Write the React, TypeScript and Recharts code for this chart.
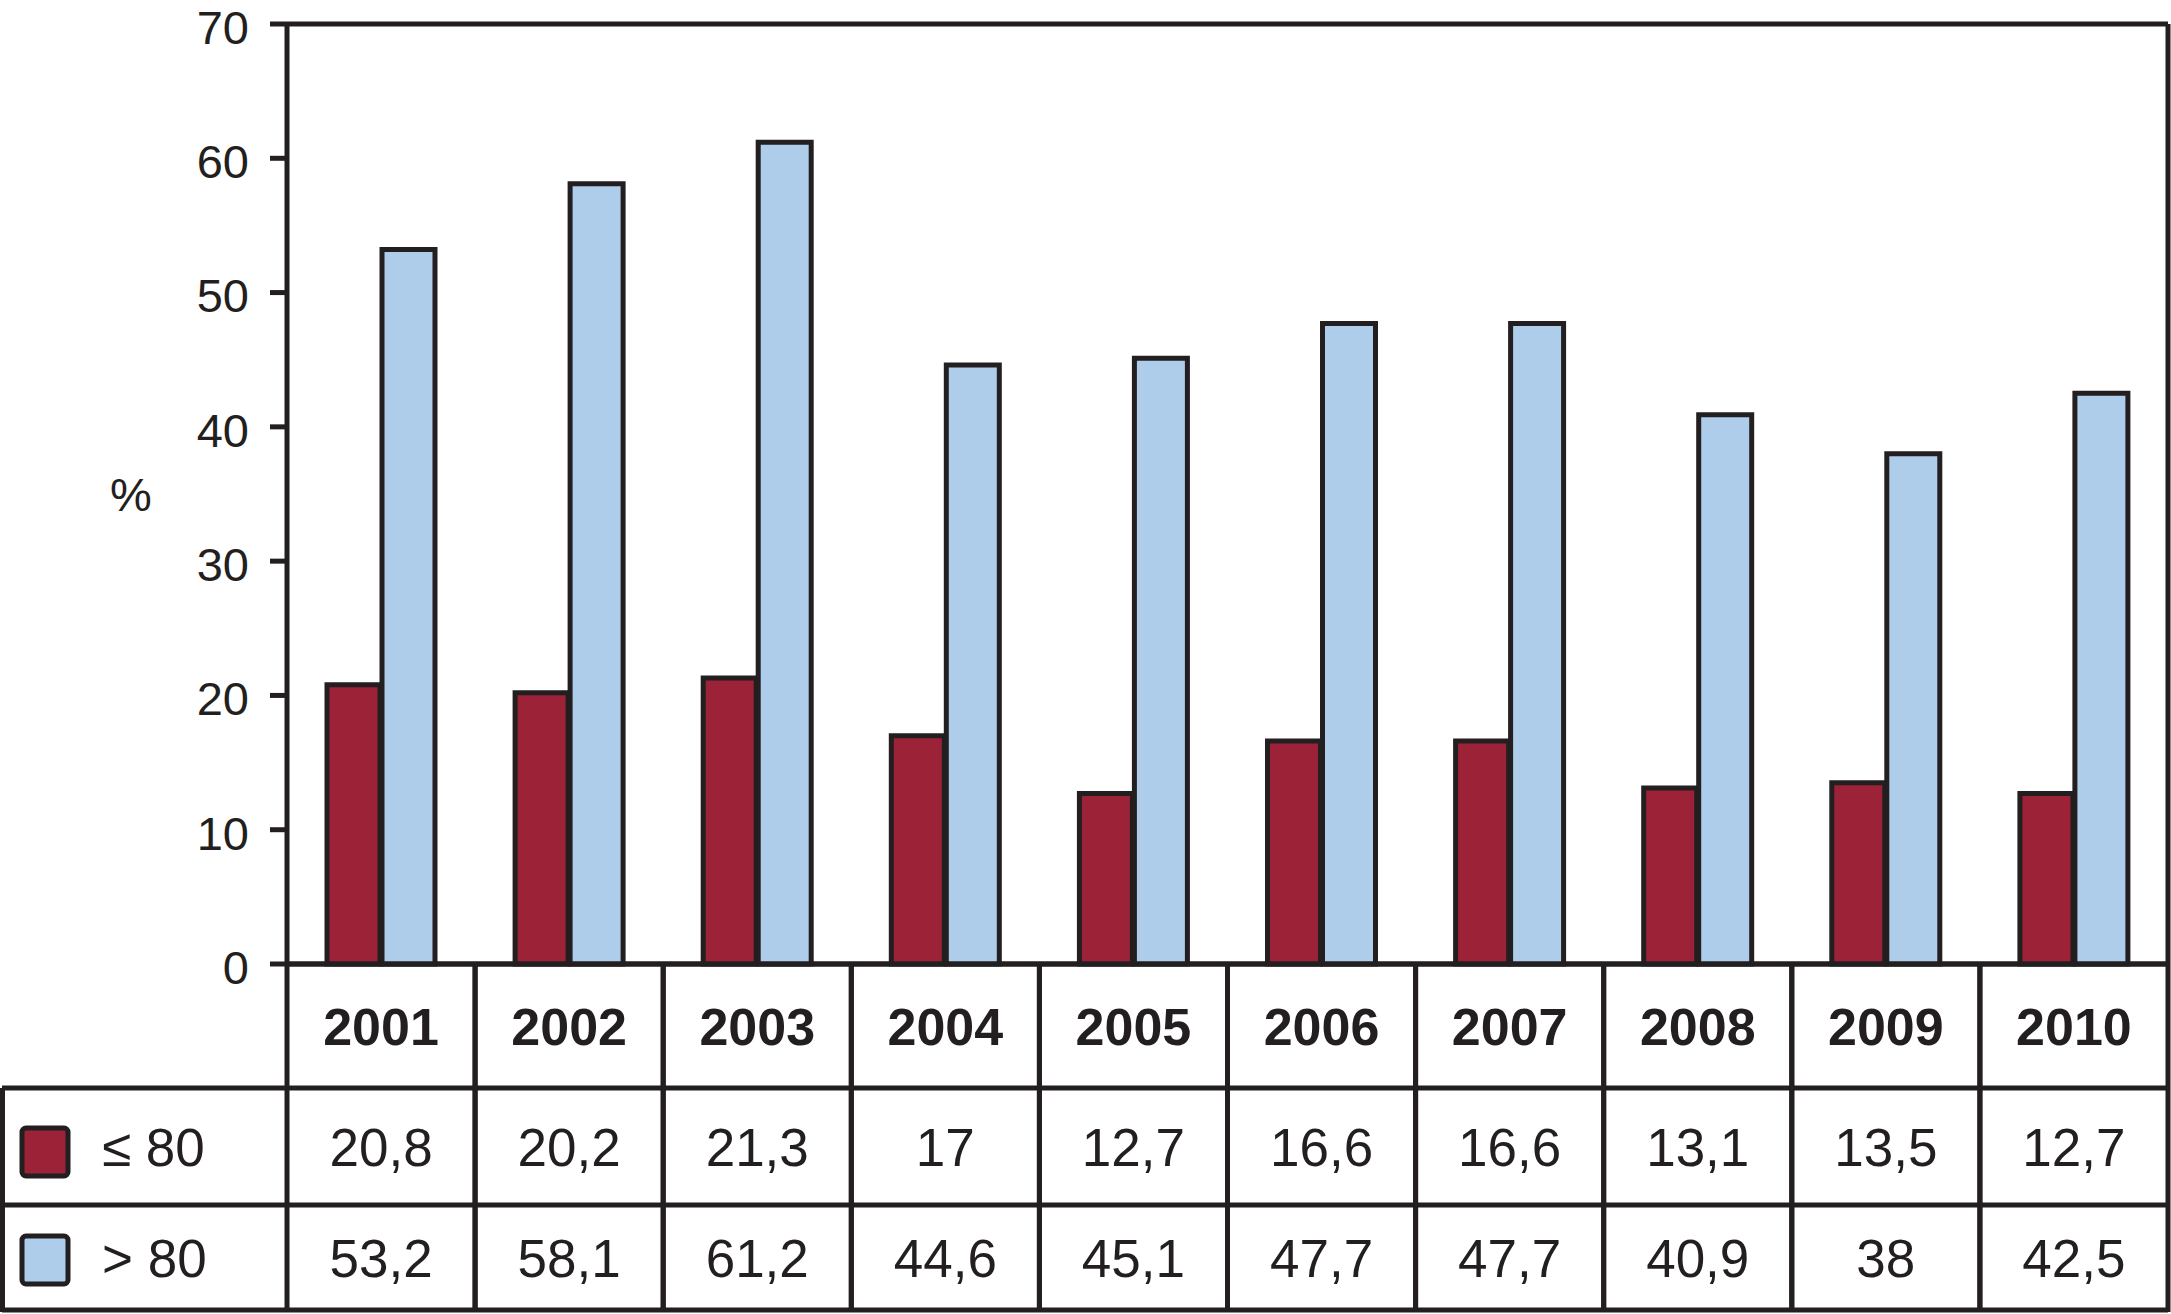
import React from "react";
import { BarChart, Bar, XAxis, YAxis, CartesianGrid } from "recharts";

const years = ["2001", "2002", "2003", "2004", "2005", "2006", "2007", "2008", "2009", "2010"];
const lowAge = [20.8, 20.2, 21.3, 17, 12.7, 16.6, 16.6, 13.1, 13.5, 12.7];
const highAge = [53.2, 58.1, 61.2, 44.6, 45.1, 47.7, 47.7, 40.9, 38, 42.5];
const yTicks = [0, 10, 20, 30, 40, 50, 60, 70];
const seriesNames = ["≤ 80", "> 80"];

const data = years.map((year, i) => ({ year, low: lowAge[i], high: highAge[i] }));

const W = 2171;
const H = 1314;
const LEFT = 287;
const RIGHT_W = 3;
const TOP = 24;
const BOTTOM = 964;
const ROW1 = 1088;
const ROW2 = 1205;
const ROW3 = 1310;
const BAND = (W - LEFT - RIGHT_W) / years.length;
const SW = 5;

const INK = "#231F20";
const RED = "#9C2238";
const BLUE = "#AECDEB";
const FONT = '"Liberation Sans", Arial, Helvetica, sans-serif';

const fmt = (v: number) => String(v).replace(".", ",");

const ValueTick = (props: any) => {
  const { x, y, payload } = props;
  return (
    <text x={x} y={y + 3} dy="0.36em" textAnchor="end" fontSize={47} fontFamily={FONT} fill={INK}>
      {payload.value}
    </text>
  );
};

const TableColumn = (props: any) => {
  const { x, payload } = props;
  const i = payload.index;
  const half = BAND / 2;
  return (
    <g fontFamily={FONT} fill={INK}>
      {i === 0 && (
        <g>
          <line x1={2} y1={ROW1} x2={W - RIGHT_W} y2={ROW1} stroke={INK} strokeWidth={SW} />
          <line x1={2} y1={ROW2} x2={W - RIGHT_W} y2={ROW2} stroke={INK} strokeWidth={SW} />
          <line x1={2} y1={ROW3} x2={W - RIGHT_W} y2={ROW3} stroke={INK} strokeWidth={SW} />
          <line x1={2.5} y1={ROW1} x2={2.5} y2={ROW3 + 2} stroke={INK} strokeWidth={SW} />
          <rect x={22} y={1128} width={46} height={48} rx={4} fill={RED} stroke={INK} strokeWidth={SW} />
          <rect x={22} y={1236} width={46} height={48} rx={4} fill={BLUE} stroke={INK} strokeWidth={SW} />
          <text x={102} y={(ROW1 + ROW2) / 2} dy="0.36em" fontSize={53} textAnchor="start">
            {seriesNames[0]}
          </text>
          <text x={102} y={(ROW2 + ROW3) / 2} dy="0.36em" fontSize={53} textAnchor="start">
            {seriesNames[1]}
          </text>
        </g>
      )}
      <line x1={x - half} y1={BOTTOM} x2={x - half} y2={ROW3 + 2} stroke={INK} strokeWidth={SW} />
      <line x1={x + half} y1={BOTTOM} x2={x + half} y2={ROW3 + 2} stroke={INK} strokeWidth={SW} />
      <text x={x} y={(BOTTOM + ROW1) / 2} dy="0.36em" fontSize={52} fontWeight="bold" textAnchor="middle">
        {payload.value}
      </text>
      <text x={x} y={(ROW1 + ROW2) / 2} dy="0.36em" fontSize={53} textAnchor="middle">
        {fmt(lowAge[i])}
      </text>
      <text x={x} y={(ROW2 + ROW3) / 2} dy="0.36em" fontSize={53} textAnchor="middle">
        {fmt(highAge[i])}
      </text>
    </g>
  );
};

export default function App() {
  return (
    <div style={{ position: "absolute", left: 0, top: 0, width: W, height: H, background: "#fff" }}>
      <BarChart
        width={W}
        height={H}
        data={data}
        margin={{ top: TOP, right: 0, bottom: 0, left: 0 }}
        barSize={53}
        barGap={2}
      >
        <CartesianGrid vertical={false} stroke={INK} strokeWidth={SW} strokeOpacity={1} />
        <XAxis
          dataKey="year"
          height={H - BOTTOM}
          axisLine={{ stroke: INK, strokeWidth: SW }}
          tickLine={false}
          tick={<TableColumn />}
          interval={0}
        />
        <YAxis
          yAxisId="left"
          width={LEFT}
          domain={[0, 70]}
          ticks={yTicks}
          interval={0}
          axisLine={{ stroke: INK, strokeWidth: SW }}
          tickLine={{ stroke: INK, strokeWidth: SW }}
          tickSize={17}
          tickMargin={21}
          tick={<ValueTick />}
          label={{ value: "%", position: "insideLeft", offset: 110, fill: INK, fontSize: 47, fontFamily: FONT }}
        />
        <YAxis
          yAxisId="right"
          orientation="right"
          width={RIGHT_W}
          domain={[0, 70]}
          ticks={yTicks}
          tick={false}
          tickLine={false}
          axisLine={{ stroke: INK, strokeWidth: SW }}
        />
        <Bar yAxisId="left" dataKey="low" name={seriesNames[0]} fill={RED} stroke={INK} strokeWidth={SW} isAnimationActive={false} />
        <Bar yAxisId="left" dataKey="high" name={seriesNames[1]} fill={BLUE} stroke={INK} strokeWidth={SW} isAnimationActive={false} />
      </BarChart>
    </div>
  );
}
